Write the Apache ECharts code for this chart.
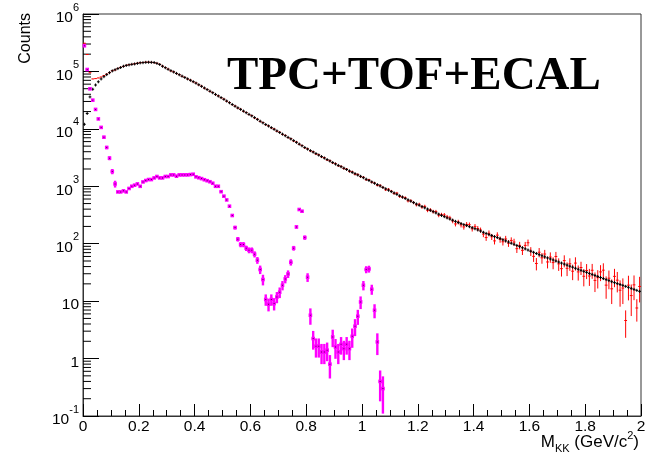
<!DOCTYPE html>
<html><head><meta charset="utf-8">
<script src="https://cdn.jsdelivr.net/npm/echarts@6/dist/echarts.min.js"></script>
<style>html,body{margin:0;padding:0;background:#fff}#c{width:650px;height:456px}</style>
</head><body><div id="c"></div>
<script>
// ---- data ----
const binWidth = 0.01;           // bins of 10 MeV from 0 to 2 GeV/c^2
const yDecades = [0.1, 1, 10, 100, 1e3, 1e4, 1e5, 1e6];
const xTickStep = 0.2;

// black histogram (model)
const modelCounts = [
12000,18500,36000,49000,58000,66000,74000,81000,88000,95000,
102000,107000,112000,117000,123000,127000,130000,133000,135000,138000,
141000,142000,144000,144500,144000,143000,138000,132000,123000,116000,
109000,103000,97700,92500,87500,82800,78300,74100,70100,66400,
62500,58600,55000,51500,48300,45300,42500,39800,37300,35000,
32700,30500,28500,26600,24800,23200,21800,20400,19100,17900,
16800,15700,14600,13600,12700,11900,11200,10500,9820,9200,
8630,8090,7590,7110,6670,6240,5820,5430,5070,4730,
4440,4180,3940,3710,3490,3290,3100,2920,2750,2590,
2440,2310,2190,2070,1960,1850,1750,1660,1570,1490,
1410,1330,1260,1190,1130,1070,1010,955,904,855,
809,766,724,685,649,614,581,550,520,492,
467,444,422,401,381,362,344,327,311,296,
282,269,257,245,234,224,215,207,198,190,
182,174,166,158,151,145,139,133,128,123,
117,112,107,102,97.7,93.3,89.1,85.1,81.3,77.6,
74.1,70.8,67.6,64.6,61.7,59.0,56.6,54.3,52.1,50.0,
48.0,46.0,44.2,42.4,40.6,39.0,37.4,35.9,34.4,33.0,
31.7,30.4,29.2,28.0,26.9,25.8,24.7,23.7,22.8,21.8,
21.0,20.2,19.5,18.8,18.1,17.4,16.7,16.0,15.4,14.8];

// red points (data) and their errors
const dataCounts = [
310000,197000,95000,74000,75000,77000,80000,85000,90000,96000,
103000,106000,113000,118000,122000,128000,131000,133000,136000,139000,
142000,143000,145000,145000,144000,142000,139000,133000,124000,117000,
110000,102000,98500,92000,88000,82300,79000,73700,70700,66000,
63000,58300,55400,51200,48700,45000,42900,39500,37600,34800,
33000,30300,28700,26400,25000,23000,22000,20200,19300,17700,
17000,15500,14800,13500,12900,11800,11300,10400,9950,9100,
8750,8000,7700,7050,6750,6150,5900,5380,5130,4680,
4500,4130,3990,3660,3540,3250,3150,2880,2790,2560,
2480,2280,2220,2040,1990,1820,1780,1630,1600,1470,
1440,1300,1300,1180,1140,1040,1040,955,868,889,
825,751,760,664,649,632,558,561,520,477,
486,435,447,381,389,362,361,314,320,317,
293,282,249,221,239,213,196,217,214,182,
200,184,173,147,128,152,132,112,141,119,
108,121,102,114,107,82,93.6,76.6,93.5,104,
74.1,60.2,45.3,71.1,56.8,66.1,48.1,58.6,46.9,60,
44.6,36.8,50.8,37.3,44.7,33.2,46,32.3,38.5,27.1,
34.2,27.4,34.5,23,25.6,32.3,34.6,19,25.1,16.4,
27,23.2,15.5,16.9,4.6,19,12.5,19.2,7.6,18];
const dataErrors = [
1100,890,620,540,550,550,570,580,600,620,
640,650,670,690,700,720,720,730,740,750,
750,760,760,760,760,750,750,730,700,680,
660,640,630,610,590,570,560,540,530,510,
500,480,470,450,440,420,410,400,390,370,
360,350,340,320,320,300,300,280,280,270,
260,250,240,230,230,220,210,200,200,190,
190,180,180,170,160,160,150,150,140,140,
130,130,130,120,120,110,110,110,110,100,
100,95,95,90,90,85,85,80,80,77,
55,52,52,50,48,46,46,44,42,42,
40,38,39,36,36,35,34,33,32,31,
31,29,30,27,28,27,27,25,25,25,
24,24,22,21,22,21,20,21,20,19,
20,19,18,17,16,18,16,15,17,15,
15,16,14,15,15,13,14,13,14,14,
13,12,11,13,12,12,11,12,11,12,
11,10,12,10,11,10,12,9.5,10,9,
10,9,10,8.6,9,10,11,8,9,7.5,
9.5,9,7.5,8,2.3,8.7,7,8.8,3.2,8.5];

// magenta points (background) and errors, bins 0..107
const bkgCounts = [
280000,108000,49800,31600,21800,14900,10600,7160,4740,3090,
1810,1100,798,798,832,798,916,1000,1045,1100,
1000,1190,1260,1310,1310,1400,1480,1400,1400,1480,
1480,1580,1580,1500,1580,1580,1580,1580,1600,1620,
1460,1410,1360,1300,1250,1200,1130,1000,1000,805,
673,579,450,310,191,120,96.8,96.8,83.6,77.1,
77.1,65.6,51.6,35.6,23.8,10.7,8.83,10.7,9.08,11.8,
14.3,18.9,24.4,29.8,47.6,83.6,196,394,368,128,
26.1,5.68,2.23,1.64,1.64,1.30,1.30,1.40,0.80,2.38,
1.59,1.30,1.77,1.49,1.77,1.49,2.44,3.66,5.46,9.68,
18.9,35.6,36.4,16.1,6.93,1.95,0.40,0.30];
const bkgErrors = [
3000,1600,1000,800,650,550,460,380,310,250,
190,150,28,28,29,28,30,32,32,33,
32,34,35,36,36,37,38,37,37,38,
38,40,40,39,40,40,40,40,40,41,
38,37,37,36,35,35,34,32,32,28,
26,24,21,18,14,11,10,10,9,9,
9,8,7,6,5,2.4,2.2,2.4,2.2,2.6,
3,3.5,4,4.5,6,8,13,19,18,11,
4.5,1.8,0.8,0.6,0.6,0.5,0.5,0.5,0.35,0.8,
0.6,0.5,0.6,0.55,0.6,0.55,0.9,1.2,1.6,2.4,
3.5,5,5,3.2,1.9,0.8,0.22,0.19];

// ---- build series data ----
function binned(vals, errs) {
  return vals.map((v, i) => [binWidth * (i + 0.5), v, errs ? errs[i] : 0]);
}
const minorTickVals = [];
yDecades.slice(0, -1).forEach(d => { for (let k = 2; k <= 9; k++) minorTickVals.push([0, d * k]); });

const FONT = 'Liberation Sans';
const yMin = yDecades[0];

function errRender(color, lw, vHalfPx) {
  return function (params, api) {
    const c = api.value(0), v = api.value(1), e = api.value(2);
    const pL = api.coord([c - binWidth / 2, v]);
    const pR = api.coord([c + binWidth / 2, v]);
    const pc = api.coord([c, v]);
    let yT, yB;
    if (e > 0) {
      yT = api.coord([c, v + e])[1];
      yB = api.coord([c, Math.max(v - e, yMin)])[1];
    } else {
      yT = pc[1] - vHalfPx; yB = pc[1] + vHalfPx;
    }
    return { type: 'group', children: [
      { type: 'line', shape: { x1: pL[0], y1: pL[1], x2: pR[0], y2: pR[1] }, style: { stroke: color, lineWidth: lw } },
      { type: 'line', shape: { x1: pc[0], y1: yT, x2: pc[0], y2: yB }, style: { stroke: color, lineWidth: lw } }
    ]};
  };
}

function bkgRender(params, api) {
  const c = api.value(0), v = api.value(1), e = api.value(2);
  const pc = api.coord([c, v]);
  const pL = api.coord([c - binWidth / 2, v]);
  const pR = api.coord([c + binWidth / 2, v]);
  const yT = api.coord([c, v + e])[1];
  const yB = api.coord([c, Math.max(v - e, yMin)])[1];
  const s = 3.6;
  return { type: 'group', children: [
    { type: 'line', shape: { x1: pc[0], y1: yT, x2: pc[0], y2: yB }, style: { stroke: '#ff00ff', lineWidth: 2.4 } },
    { type: 'line', shape: { x1: pL[0], y1: pL[1], x2: pR[0], y2: pR[1] }, style: { stroke: '#ff00ff', lineWidth: 1 } },
    { type: 'rect', shape: { x: pc[0] - s / 2, y: pc[1] - s / 2, width: s, height: s }, style: { fill: '#ff00ff' } },
    { type: 'rect', shape: { x: pc[0] - 0.5, y: pc[1] - 0.5, width: 1, height: 1 }, style: { fill: '#5a005a' } }
  ]};
}

const chart = echarts.init(document.getElementById('c'), null, { renderer: 'canvas' });
chart.setOption({
  animation: false,
  backgroundColor: '#fff',
  grid: { left: 83, right: 9, top: 14, bottom: 40, show: true, borderColor: '#333', borderWidth: 1, backgroundColor: 'transparent' },
  xAxis: {
    type: 'value', min: 0, max: 2, interval: xTickStep,
    axisLine: { show: true, lineStyle: { color: '#333', width: 1 } },
    axisTick: { show: true, inside: true, length: 12, lineStyle: { color: '#000' } },
    minorTick: { show: true, splitNumber: 4, length: 6, lineStyle: { color: '#000' } },
    splitLine: { show: false }, minorSplitLine: { show: false },
    axisLabel: { margin: 3, fontFamily: FONT, fontSize: 15.5, color: '#000', showMinLabel: true, showMaxLabel: true,
      formatter: v => String(+v.toFixed(1)) }
  },
  yAxis: {
    type: 'log', logBase: 10, min: yDecades[0], max: yDecades[yDecades.length - 1], splitNumber: 7,
    axisLine: { show: true, lineStyle: { color: '#333', width: 1 } },
    axisTick: { show: true, inside: true, length: 16, lineStyle: { color: '#000' } },
    minorTick: { show: false },
    splitLine: { show: false },
    axisLabel: { margin: 4, showMinLabel: true, showMaxLabel: true,
      formatter: function (v) {
        const e = Math.round(Math.log10(v));
        if (e === 0) return '{b|1}';
        if (e === 1) return '{b|10}';
        return '{b|10}{s|' + e + '}';
      },
      rich: {
        b: { fontFamily: FONT, fontSize: 15.5, color: '#000', verticalAlign: 'bottom', lineHeight: 24 },
        s: { fontFamily: FONT, fontSize: 11, color: '#000', verticalAlign: 'top', lineHeight: 24 }
      }
    }
  },
  series: [
    { type: 'custom', name: 'minorTicks', silent: true, z: 1,
      data: minorTickVals,
      renderItem: function (params, api) {
        const p = api.coord([0, api.value(1)]);
        return { type: 'line', shape: { x1: p[0], y1: p[1], x2: p[0] + 8, y2: p[1] }, style: { stroke: '#000', lineWidth: 1 } };
      }
    },
    { type: 'custom', name: 'data', z: 2, data: binned(dataCounts, dataErrors), renderItem: errRender('#ff0000', 1, 0) },
    { type: 'custom', name: 'model', z: 3, data: binned(modelCounts, null), renderItem: errRender('#000000', 1, 1.5) },
    { type: 'custom', name: 'bkg', z: 4, data: binned(bkgCounts, bkgErrors), renderItem: bkgRender }
  ],
  graphic: [
    { type: 'text', x: 227, y: 77, z: 10,
      style: { text: 'TPC+TOF+ECAL', fontFamily: 'Liberation Serif', fontWeight: 'bold', fontSize: 47, fill: '#000', align: 'left', verticalAlign: 'middle' } },
    { type: 'text', x: 26, y: 13, rotation: Math.PI / 2, z: 10,
      style: { text: 'Counts', fontFamily: FONT, fontSize: 16, fill: '#000', align: 'right', verticalAlign: 'middle' } },
    { type: 'text', x: 639, y: 442, z: 10,
      style: { text: '{m|M}{k|KK}{m| (GeV/c}{p|2}{m|)}', align: 'right', verticalAlign: 'middle',
        rich: {
          m: { fontFamily: FONT, fontSize: 17, fill: '#000', verticalAlign: 'middle', lineHeight: 24 },
          k: { fontFamily: FONT, fontSize: 11, fill: '#000', verticalAlign: 'bottom', lineHeight: 24 },
          p: { fontFamily: FONT, fontSize: 11, fill: '#000', verticalAlign: 'top', lineHeight: 24 }
        } } }
  ]
});
</script></body></html>
